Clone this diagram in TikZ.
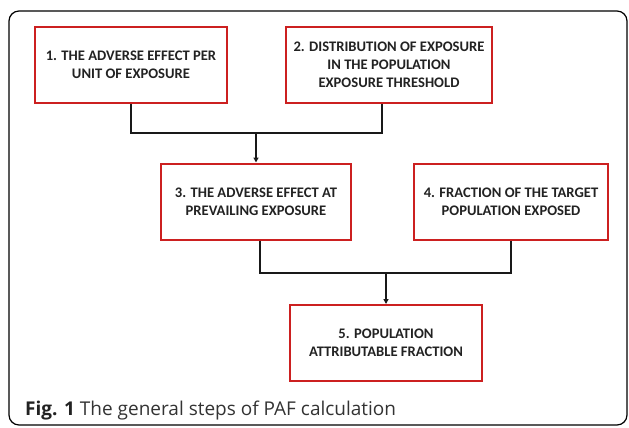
\documentclass[tikz,border=0pt]{standalone}
\usepackage{fontspec}
\setmainfont{Carlito}
\newfontfamily\capfont{Open Sans}
\usetikzlibrary{arrows.meta,positioning}

\definecolor{boxred}{RGB}{204,32,32}
\definecolor{inktext}{RGB}{34,34,34}

\tikzset{
  stepbox/.style={draw=boxred, line width=2pt, fill=white, text=inktext,
    minimum width=192pt, minimum height=76pt, align=center, inner sep=0pt,
    font=\bfseries\fontsize{14.6}{18}\selectfont},
  link/.style={line width=1.4pt, draw=black!90},
  arrowlink/.style={link, -{Triangle[length=5pt,width=5pt]}}
}

\begin{document}
\begin{tikzpicture}[x=1pt,y=-1pt]
\useasboundingbox (0,0) rectangle (629,428);

%frame
\draw[line width=1.2pt, rounded corners=10pt] (9,11) rectangle (627,425);

%steps
\node[stepbox] (s1) at (131,65) {1. THE ADVERSE EFFECT PER\\UNIT OF EXPOSURE};
\node[stepbox, minimum width=206pt] (s2) at (389,65) {2. DISTRIBUTION OF EXPOSURE\\IN THE POPULATION\\EXPOSURE THRESHOLD};
\node[stepbox, minimum width=190pt] (s3) at (256,201.5) {3. THE ADVERSE EFFECT AT\\PREVAILING EXPOSURE};
\node[stepbox, minimum width=194pt] (s4) at (511,201.5) {4. FRACTION OF THE TARGET\\POPULATION EXPOSED};
\node[stepbox] (s5) at (386,343) {5. POPULATION\\ATTRIBUTABLE FRACTION};

%junctions
\coordinate (j1) at (256,133);
\coordinate (j2) at (386,273);

%connectors
\draw[link] (s1.south) |- (j1) -| ([xshift=-7pt]s2.south);
\draw[arrowlink] (j1) -- (s3.north);
\draw[link] ([xshift=4pt]s3.south) |- (j2) -| (s4.south);
\draw[arrowlink] (j2) -- (s5.north);

%caption
\node[anchor=base west, inner sep=0pt, text=black!80, font=\capfont\fontsize{19}{22}\selectfont] (cap) at (25,415) {\textbf{\color{inktext}Fig. 1} The general steps of PAF calculation};

\end{tikzpicture}
\end{document}
